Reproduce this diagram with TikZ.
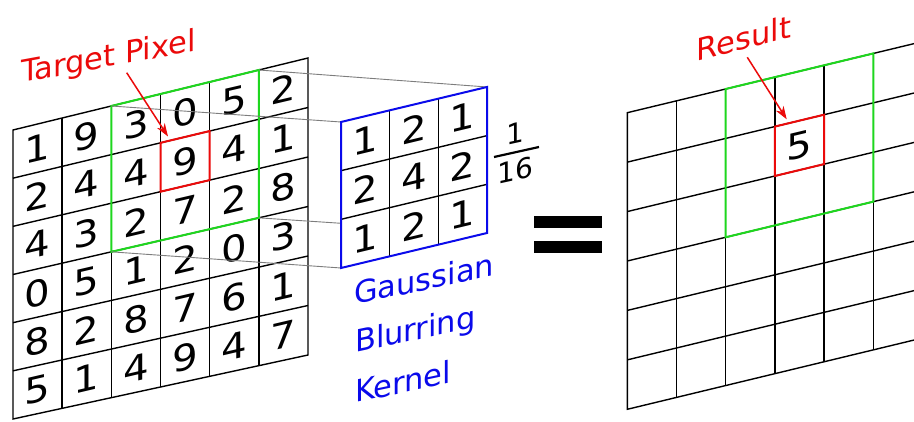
\documentclass[tikz,border=0pt]{standalone}
\usepackage{fontspec}
\setmainfont{DejaVu Sans}
\usetikzlibrary{calc,arrows.meta}
\definecolor{myred}{RGB}{235,10,10}
\definecolor{mygreen}{RGB}{30,215,30}
\definecolor{myblue}{RGB}{10,10,235}
\definecolor{mygray}{RGB}{125,125,125}
\newcommand\mkgridpts[2]{%
  \foreach \k in {0,...,#2} {
    \coordinate (#1-t\k) at ($(#1TL)!{\k/#2}!(#1TR)$);
    \coordinate (#1-b\k) at ($(#1BL)!{\k/#2}!(#1BR)$);
    \coordinate (#1-l\k) at ($(#1TL)!{\k/#2}!(#1BL)$);
    \coordinate (#1-r\k) at ($(#1TR)!{\k/#2}!(#1BR)$);
  }
  \foreach \k in {1,...,#2} {
    \coordinate (#1-lc\k) at ($(#1TL)!{(\k-0.5)/#2}!(#1BL)$);
    \coordinate (#1-rc\k) at ($(#1TR)!{(\k-0.5)/#2}!(#1BR)$);
  }%
}
\begin{document}
\begin{tikzpicture}[x=1pt,y=1pt,
  gridline/.style={black, line width=1.4pt},
  greenbox/.style={mygreen, line width=2pt, line join=miter},
  redbox/.style={myred, line width=2pt, line join=miter},
  bluebox/.style={myblue, line width=2pt, line join=miter},
  digit/.style={font=\fontsize{36}{42}\selectfont, inner sep=0pt, anchor=center, xscale=1.12},
  fracdigit/.style={font=\fontsize{28}{32}\selectfont, inner sep=0pt, anchor=center},
  lbltext/.style={font=\fontsize{30.5}{36}\selectfont, inner sep=0pt, anchor=base west},
  conn/.style={mygray, line width=0.9pt},
  pointer/.style={myred, line width=1.5pt, -{Stealth[length=13pt,width=9pt,inset=4pt]}},
  eqbar/.style={fill=black, minimum width=68pt, minimum height=12pt, inner sep=0pt},
]
\useasboundingbox (0,0) rectangle (914,421);
\fill[white] (0,0) rectangle (914,421);

% ---------- left image grid ----------
\coordinate (LTL) at (13,291);
\coordinate (LTR) at (308,363);
\coordinate (LBL) at (13,2);
\coordinate (LBR) at (308,66);
\mkgridpts{L}{6}
\foreach \k in {1,...,5} {
  \draw[gridline] (L-t\k) -- (L-b\k);
  \draw[gridline] (L-l\k) -- (L-r\k);
}
\draw[gridline, line join=miter] (LTL) -- (LTR) -- (LBR) -- (LBL) -- cycle;

\foreach \row [count=\j from 1] in {{1,9,3,0,5,2},{2,4,4,9,4,1},{4,3,2,7,2,8},{0,5,1,2,0,3},{8,2,8,7,6,1},{5,1,4,9,4,7}} {
  \foreach \d [count=\i from 1] in \row {
    \coordinate (Lp) at ($(L-lc\j)!{(\i-0.5)/6}!(L-rc\j)$);
    \begin{scope}[shift={(Lp)}, yslant=0.235, transform shape]
      \node[digit] (L-\i-\j) at (0,0) {\d};
    \end{scope}
  }
}

% green window and red target
\coordinate (gTL) at ($(L-l0)!{2/6}!(L-r0)$);
\coordinate (gTR) at ($(L-l0)!{5/6}!(L-r0)$);
\coordinate (gBR) at ($(L-l3)!{5/6}!(L-r3)$);
\coordinate (gBL) at ($(L-l3)!{2/6}!(L-r3)$);
\draw[greenbox] (gTL) -- (gTR) -- (gBR) -- (gBL) -- cycle;
\coordinate (tTL) at ($(L-l1)!{3/6}!(L-r1)$);
\coordinate (tTR) at ($(L-l1)!{4/6}!(L-r1)$);
\coordinate (tBR) at ($(L-l2)!{4/6}!(L-r2)$);
\coordinate (tBL) at ($(L-l2)!{3/6}!(L-r2)$);
\draw[redbox] (tTL) -- (tTR) -- (tBR) -- (tBL) -- cycle;

% ---------- kernel ----------
\coordinate (KTL) at (341,299);
\coordinate (KTR) at (487,334);
\coordinate (KBL) at (341,153);
\coordinate (KBR) at (487,188);
\mkgridpts{K}{3}

\draw[conn] (gTR) -- (KTR);
\draw[conn] (gTL) -- (KTL);
\draw[conn] (gBR) -- (KBR);
\draw[conn] (gBL) -- (KBL);

\fill[white] (KTL) -- (KTR) -- (KBR) -- (KBL) -- cycle;
\foreach \k in {1,2} {
  \draw[gridline] (K-t\k) -- (K-b\k);
  \draw[gridline] (K-l\k) -- (K-r\k);
}
\draw[bluebox] (KTL) -- (KTR) -- (KBR) -- (KBL) -- cycle;
\foreach \row [count=\j from 1] in {{1,2,1},{2,4,2},{1,2,1}} {
  \foreach \d [count=\i from 1] in \row {
    \coordinate (Kp) at ($(K-lc\j)!{(\i-0.5)/3}!(K-rc\j)$);
    \begin{scope}[shift={(Kp)}, yslant=0.24, transform shape]
      \node[digit] (K-\i-\j) at (0,0) {\d};
    \end{scope}
  }
}

% fraction 1/16
\begin{scope}[shift={(515,287.5)}, yslant=0.22, transform shape]
  \node[fracdigit] (fnum) at (0,0) {1};
\end{scope}
\begin{scope}[shift={(515.5,251)}, yslant=0.22, transform shape]
  \node[fracdigit] (fden) at (0,0) {16};
\end{scope}
\coordinate (fbarL) at (494,264);
\coordinate (fbarR) at (539,274);
\draw[black, line width=2.2pt] (fbarL) -- (fbarR);

% kernel caption
\begin{scope}[shift={(354,116)}, yslant=0.21, transform shape]
  \node[lbltext, text=myblue] (gauss) at (0,0) {Gaussian};
\end{scope}
\begin{scope}[shift={(355,68)}, yslant=0.21, transform shape]
  \node[lbltext, text=myblue] (blur) at (0,0) {Blurring};
\end{scope}
\begin{scope}[shift={(355,18)}, yslant=0.21, transform shape]
  \node[lbltext, text=myblue] (kern) at (0,0) {Kernel};
\end{scope}

% equals sign
\node[eqbar] (eqtop) at (568,199) {};
\node[eqbar] (eqbot) at (568,174) {};

% ---------- result grid ----------
\coordinate (RTL) at (627.3,308.3);
\coordinate (RTR) at (922.5,379.4);
\coordinate (RBL) at (627.3,11.7);
\coordinate (RBR) at (922.5,83);
\mkgridpts{R}{6}
\begin{scope}
\clip (0,0) rectangle (914,421);
\foreach \k in {1,...,5} {
  \draw[gridline] (R-t\k) -- (R-b\k);
  \draw[gridline] (R-l\k) -- (R-r\k);
}
\draw[gridline, line join=miter] (RTL) -- (RTR) -- (RBR) -- (RBL) -- cycle;
\end{scope}
\coordinate (rgTL) at ($(R-l0)!{2/6}!(R-r0)$);
\coordinate (rgTR) at ($(R-l0)!{5/6}!(R-r0)$);
\coordinate (rgBR) at ($(R-l3)!{5/6}!(R-r3)$);
\coordinate (rgBL) at ($(R-l3)!{2/6}!(R-r3)$);
\draw[greenbox] (rgTL) -- (rgTR) -- (rgBR) -- (rgBL) -- cycle;
\coordinate (rtTL) at ($(R-l1)!{3/6}!(R-r1)$);
\coordinate (rtTR) at ($(R-l1)!{4/6}!(R-r1)$);
\coordinate (rtBR) at ($(R-l2)!{4/6}!(R-r2)$);
\coordinate (rtBL) at ($(R-l2)!{3/6}!(R-r2)$);
\draw[redbox] (rtTL) -- (rtTR) -- (rtBR) -- (rtBL) -- cycle;
\coordinate (Rp) at ($(R-lc2)!{3.5/6}!(R-rc2)$);
\begin{scope}[shift={(Rp)}, yslant=0.24, transform shape]
  \node[digit] (res5) at (0,0) {5};
\end{scope}

% ---------- labels and pointers ----------
\begin{scope}[shift={(21,338)}, yslant=0.183, transform shape]
  \node[lbltext, text=myred] (tpix) at (0,0) {Target Pixel};
\end{scope}
\coordinate (tp-from) at (126.7,348.3);
\coordinate (tp-to) at (168,284.5);
\draw[pointer] (tp-from) -- (tp-to);

\begin{scope}[shift={(696.7,359.3)}, yslant=0.26, transform shape]
  \node[lbltext, text=myred] (res) at (0,0) {Result};
\end{scope}
\coordinate (rs-from) at (747.3,363.7);
\coordinate (rs-to) at (786.7,301.7);
\draw[pointer] (rs-from) -- (rs-to);
\end{tikzpicture}
\end{document}
